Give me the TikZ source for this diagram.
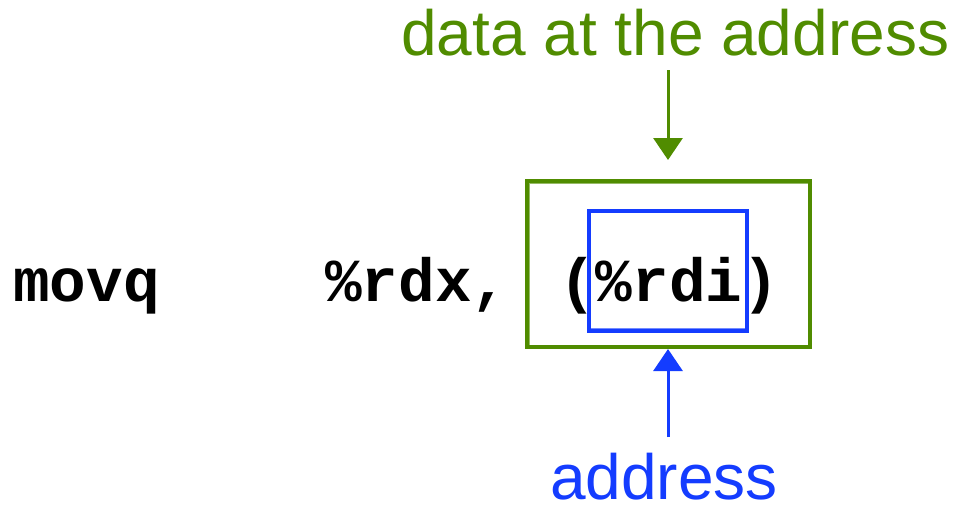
\documentclass[tikz,border=0pt]{standalone}
\usepackage{fontspec}
\setmainfont{Liberation Sans}
\newfontfamily\codefont{Liberation Mono}
\usetikzlibrary{arrows.meta}
\definecolor{sgreen}{RGB}{80,140,0}
\definecolor{sblue}{RGB}{20,60,255}
\tikzset{
  code/.style={inner sep=0pt, anchor=base west, font=\codefont\bfseries\fontsize{61}{61}\selectfont},
  label/.style={inner sep=0pt, text depth=0pt, anchor=base west, font=\fontsize{64}{64}\selectfont},
  sketchbox/.style={draw, line width=4pt, inner sep=0pt},
  pointer/.style={line width=3pt, -{Triangle[length=22pt,width=29pt]}},
}
\begin{document}
\begin{tikzpicture}[x=1pt,y=-1pt]
\useasboundingbox (0,0) rectangle (957,507);
% texts
\node[label, text=sgreen] (data) at (401,55) {data at the address};
\node[label, text=sblue] (addr) at (550,499) {address};
\node[code] (movq) at (13,301) {movq};
\node[code] (rdx) at (325,301) {\%rdx,};
\node[code] (op) at (559,301) {(\%rdi)};
% boxes
\node[sketchbox, draw=sgreen, minimum width=283pt, minimum height=166pt] (gbox) at (668.5,264) {};
\draw[sgreen, line width=1pt, opacity=0.6] (529,183) rectangle (808,345);
\node[sketchbox, draw=sblue, minimum width=158pt, minimum height=120pt] (bbox) at (668,270.5) {};
\draw[sblue, line width=1pt, opacity=0.6] (590,212) rectangle (745,328);
% connectors
\coordinate (gstart) at (668,70);
\coordinate (gtip) at (668,160);
\draw[pointer, sgreen] (gstart) -- (gtip);
\coordinate (bstart) at (668,437);
\draw[pointer, sblue] (bstart) -- (gbox.south -| bstart);
\end{tikzpicture}
\end{document}
